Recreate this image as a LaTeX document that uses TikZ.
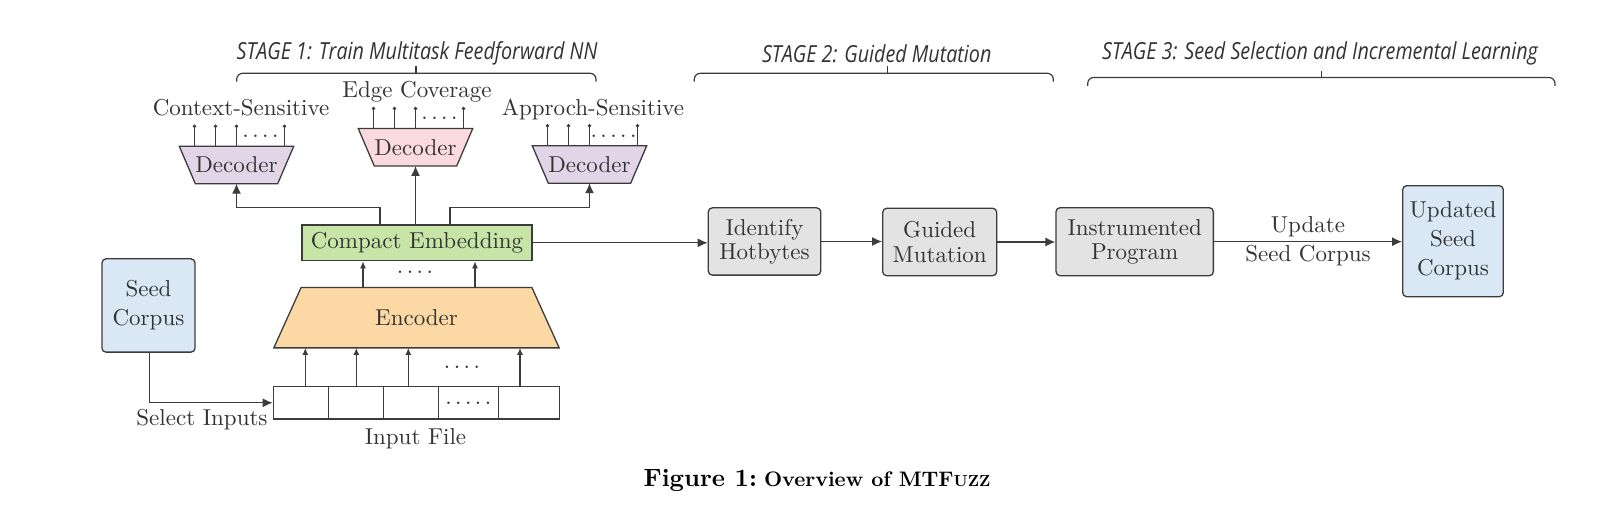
\documentclass[tikz,border=0pt]{standalone}
\usepackage{fontspec}
\setmainfont{lmroman10-regular.otf}[BoldFont=lmroman10-bold.otf, ItalicFont=lmroman10-italic.otf]
\newfontfamily\stagefont[FakeStretch=0.84]{Open Sans}
\usetikzlibrary{arrows.meta,backgrounds,calc}
\definecolor{txtc}{HTML}{333333}
\definecolor{linec}{HTML}{3C3C3C}
\definecolor{grayc}{HTML}{E3E3E3}
\definecolor{bluec}{HTML}{DAE8F6}
\definecolor{purplec}{HTML}{E1D5E7}
\definecolor{pinkc}{HTML}{FADADF}
\definecolor{greenc}{HTML}{C8E5A8}
\definecolor{orangec}{HTML}{FCD8A4}
\newcommand\mainfs{\fontsize{23}{28}\selectfont}
\newcommand\fourdots{.\hspace{3.5pt}.\hspace{3.5pt}.\hspace{3.5pt}.}
\newcommand\fivedots{.\hspace{3.5pt}.\hspace{3.5pt}.\hspace{3.5pt}.\hspace{3.5pt}.}
\begin{document}
\begin{tikzpicture}[x=1pt,y=-1pt,
  txt/.style={text=txtc, font=\mainfs, inner sep=0pt},
  box/.style={draw=linec, line width=1.3pt, rounded corners=4pt, align=center, inner sep=0pt, text=txtc},
  gbox/.style={box, fill=grayc, font=\fontsize{23}{24.3}\selectfont},
  bbox/.style={box, fill=bluec, font=\fontsize{23}{29}\selectfont},
  decnode/.style={txt, minimum width=114pt, minimum height=37pt},
  cell/.style={draw=linec, line width=1.2pt, fill=white, minimum height=32.3pt, inner sep=0pt, text=txtc, font=\mainfs},
  arr/.style={-{Latex[length=10pt,width=9pt]}, line width=1.3pt, draw=linec},
  sarr/.style={-{Latex[length=7pt,width=6pt]}, line width=1.2pt, draw=linec},
  pin/.style={line width=1.2pt, draw=linec},
  stagelbl/.style={font=\stagefont\itshape\fontsize{23.5}{26}\selectfont, text=txtc, inner sep=0pt},
  brace/.style={line width=1.2pt, draw=linec, rounded corners=6pt},
  shapeln/.style={draw=linec, line width=1.3pt}
]
\useasboundingbox (0,0) rectangle (1618,510);

% stage labels and braces
\node[stagelbl] (s1) at (417,53.5) {STAGE 1: Train Multitask Feedforward NN};
\node[stagelbl] (s2) at (876.7,53.5) {STAGE 2: Guided Mutation};
\node[stagelbl] (s3) at (1320,53.5) {STAGE 3: Seed Selection and Incremental Learning};
\draw[brace] (236.7,81.7) -- (236.7,73.3) -- (596,73.3) -- (596,81.7);
\draw[pin] (416,73.3) -- (416,66);
\draw[brace] (694.3,81.7) -- (694.3,73.3) -- (1053.3,73.3) -- (1053.3,81.7);
\draw[pin] (887.7,73.3) -- (887.7,66);
\draw[brace] (1087.7,86) -- (1087.7,77.5) -- (1555,77.5) -- (1555,86);
\draw[pin] (1321.7,77.5) -- (1321.7,71);

% decoders
\node[decnode] (d1) at (236.5,165) {Decoder};
\node[decnode] (d2) at (415.5,147.3) {Decoder};
\node[decnode] (d3) at (589.5,164.5) {Decoder};
\begin{scope}[on background layer]
  \fill[white] (0,0) rectangle (1618,510);
  \foreach \d/\c in {d1/purplec,d2/pinkc,d3/purplec}{
    \draw[shapeln, fill=\c] (\d.north west) -- (\d.north east) -- ([xshift=-16pt]\d.south east) -- ([xshift=16pt]\d.south west) -- cycle;
  }
\end{scope}
\foreach \d in {d1,d2,d3}{
  \foreach \dx in {-42,-21,0,48}{
    \draw[pin] ([xshift=\dx pt]\d.north) -- ++(0,-20);
    \fill[linec] ([xshift=\dx pt]\d.north) ++(0,-20) circle (1.9);
  }
}
\node[txt] (dots1) at ([xshift=24pt,yshift=10pt]d1.north) {\fourdots};
\node[txt] (dots2) at ([xshift=24pt,yshift=10pt]d2.north) {\fourdots};
\node[txt] (dots3) at ([xshift=24pt,yshift=10pt]d3.north) {\fivedots};
\node[txt] (l1) at (241,108) {Context-Sensitive};
\node[txt] (l2) at (417,92) {Edge Coverage};
\node[txt] (l3) at (593,110) {Approch-Sensitive};

% compact embedding
\node[draw=linec, line width=1.3pt, fill=greenc, minimum width=230pt, minimum height=35.7pt, inner sep=0pt, text=txtc, font=\mainfs] (ce) at (417,242.8) {Compact Embedding};
\draw[arr] ([xshift=-37pt]ce.north) -- ++(0,-16.7) -| (d1.south);
\draw[arr] (d2.south |- ce.north) -- (d2.south);
\draw[arr] ([xshift=33pt]ce.north) -- ++(0,-16.7) -| (d3.south);

% encoder
\node[txt, minimum width=285pt, minimum height=60pt] (enc) at (416.5,317.7) {Encoder};
\begin{scope}[on background layer]
  \draw[shapeln, fill=orangec] (enc.south west) -- (enc.south east) -- ([xshift=-27.3pt]enc.north east) -- ([xshift=27.3pt]enc.north west) -- cycle;
\end{scope}
\draw[sarr] ([xshift=-53.5pt]enc.north) -- ([xshift=-53.5pt]enc.north |- ce.south);
\draw[sarr] ([xshift=58.5pt]enc.north) -- ([xshift=58.5pt]enc.north |- ce.south);
\node[txt] (dots4) at (415,272.7) {\fourdots};

% input file
\node[cell, minimum width=55pt] (c1) at (300.8,402.8) {};
\node[cell, minimum width=55pt] (c2) at (355.8,402.8) {};
\node[cell, minimum width=55pt] (c3) at (410.8,402.8) {};
\node[cell, minimum width=60pt] (c4) at (468.3,402.8) {\fivedots};
\node[cell, minimum width=61pt] (c5) at (528.8,402.8) {};
\draw[sarr] ([xshift=4.5pt]c1.north) -- ([xshift=4.5pt]c1.north |- enc.south);
\draw[sarr] ([xshift=0.5pt]c2.north) -- ([xshift=0.5pt]c2.north |- enc.south);
\draw[sarr] ([xshift=-2.5pt]c3.north) -- ([xshift=-2.5pt]c3.north |- enc.south);
\draw[sarr] ([xshift=-8.8pt]c5.north) -- ([xshift=-8.8pt]c5.north |- enc.south);
\node[txt] (dots5) at (462,367) {\fourdots};
\node[txt] (inlbl) at (415.5,438.3) {Input File};

% seed corpus
\node[bbox, minimum width=93pt, minimum height=93.3pt] (seed) at (148.5,305.5) {Seed\\Corpus};
\draw[arr] ([xshift=0.8pt]seed.south) |- (c1.west);
\node[txt] (sel) at (202,420) {Select Inputs};

% right chain
\node[gbox, minimum width=112.4pt, minimum height=67.3pt] (ident) at (764.5,241.5) {Identify\\Hotbytes};
\node[gbox, minimum width=114pt, minimum height=67.4pt] (guided) at (939.7,242) {Guided\\Mutation};
\node[gbox, minimum width=157.3pt, minimum height=68pt] (instr) at (1134.7,241.7) {Instrumented\\Program};
\node[bbox, minimum width=100.6pt, minimum height=111pt] (upd) at (1453,241.2) {Updated\\Seed\\Corpus};
\draw[arr] (ce.east) -- (ce.east -| ident.west);
\draw[arr] (ident.east) -- (ident.east -| guided.west);
\draw[arr] (guided.east) -- (guided.east -| instr.west);
\draw[arr] (instr.east) -- (instr.east -| upd.west);
\node[txt, align=center, font=\fontsize{23}{29}\selectfont] (updl) at ($(instr.east)!0.5!(upd.west)$) {Update\\Seed Corpus};

% caption
\node[inner sep=0pt, anchor=base, text=black] (cap) at (817,487) {{\fontsize{25}{30}\selectfont\bfseries Figure 1:}\hspace{7pt}{\fontsize{21}{25}\selectfont\bfseries Overview of MTF{\fontsize{16}{20}\selectfont UZZ}}};
\end{tikzpicture}
\end{document}
